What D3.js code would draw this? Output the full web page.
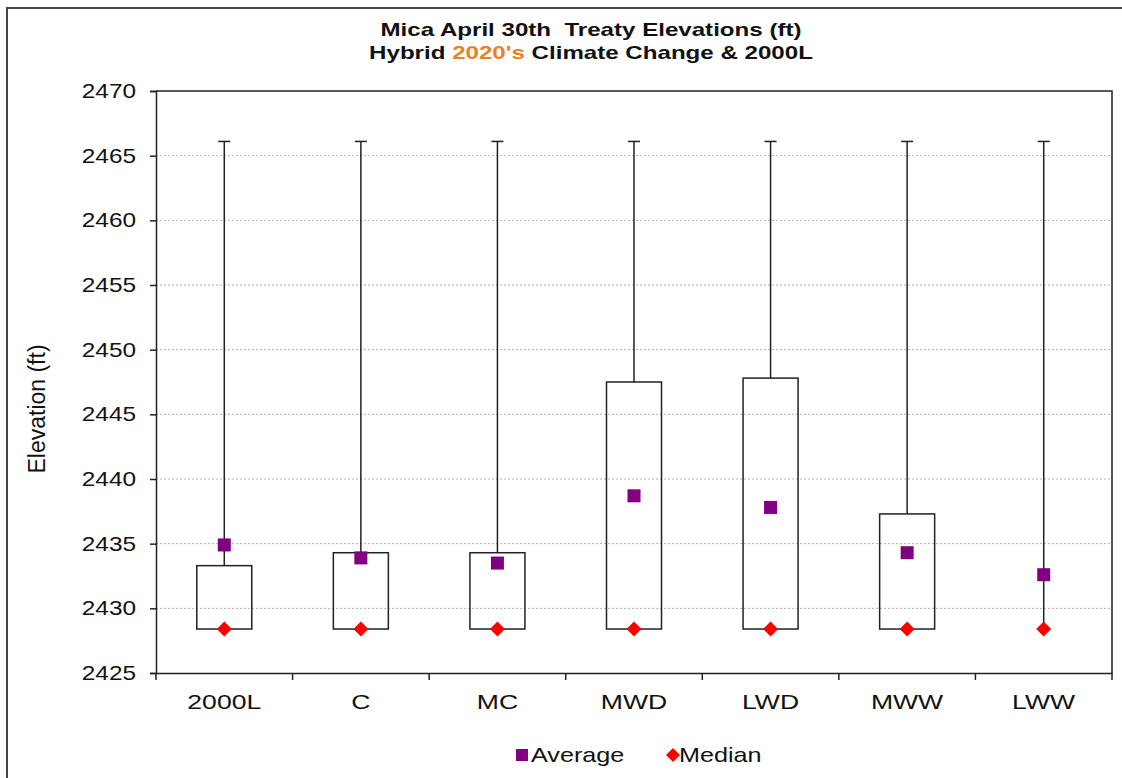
<!DOCTYPE html>
<html>
<head>
<meta charset="utf-8">
<script src="https://cdn.jsdelivr.net/npm/d3@7"></script>
<style>
  body { margin: 0; background: #fff; }
  text { font-family: "Liberation Sans", Arial, sans-serif; white-space: pre; }
  /* the source picture has wide, stretched lettering */
  .wide-c { transform-box: fill-box; transform-origin: center; transform: scaleX(1.34); }
  .wide-r { transform-box: fill-box; transform-origin: right center; transform: scaleX(1.22); }
  .wide-l { transform-box: fill-box; transform-origin: left center; transform: scaleX(1.26); }
  .wide-x { transform-box: fill-box; transform-origin: center; transform: scaleX(1.33); }
</style>
</head>
<body>
<svg width="1122" height="778"></svg>
<script>
// data
const categories = ['2000L', 'C', 'MC', 'MWD', 'LWD', 'MWW', 'LWW'];
const maxValues = [2466.1, 2466.1, 2466.1, 2466.1, 2466.1, 2466.1, 2466.1];
const q3Values = [2433.3, 2434.3, 2434.3, 2447.5, 2447.8, 2437.3, 2428.4];
const q1Values = [2428.4, 2428.4, 2428.4, 2428.4, 2428.4, 2428.4, 2428.4];
const averages = [2434.9, 2433.9, 2433.5, 2438.7, 2437.8, 2434.3, 2432.6];
const medians = [2428.4, 2428.4, 2428.4, 2428.4, 2428.4, 2428.4, 2428.4];
const yTicks = [2425, 2430, 2435, 2440, 2445, 2450, 2455, 2460, 2465, 2470];

const svg = d3.select('svg');

// outer chart frame (only left + top edges show in the picture)
svg.append('path')
    .attr('d', 'M7,778 L7,8 L1122,8')
    .attr('fill', 'none')
    .attr('stroke', '#444')
    .attr('stroke-width', 2);

const plotLeft = 156, plotRight = 1112, plotTop = 91, plotBottom = 673;

const x = d3.scaleBand().domain(categories).range([plotLeft, plotRight]);
const y = d3.scaleLinear().domain([2425, 2470]).range([plotBottom, plotTop]);

//gridlines
svg.append('g')
    .selectAll('line')
    .data(yTicks.filter(t => t > 2425 && t < 2470))
    .join('line')
    .attr('x1', plotLeft).attr('x2', plotRight)
    .attr('y1', d => y(d)).attr('y2', d => y(d))
    .attr('stroke', '#b0b0b0')
    .attr('stroke-dasharray', '2,2');

// plot area border (top + right)
svg.append('path')
    .attr('d', `M${plotLeft},${plotTop} L${plotRight},${plotTop} L${plotRight},${plotBottom}`)
    .attr('fill', 'none')
    .attr('stroke', '#222')
    .attr('stroke-width', 1.5);

//y axis
const yAxis = svg.append('g')
    .attr('transform', `translate(${plotLeft},0)`)
    .call(d3.axisLeft(y).tickValues(yTicks).tickSize(6).tickPadding(14).tickFormat(d3.format('d')));
yAxis.selectAll('text').attr('font-size', 20).attr('fill', '#111')
    .attr('class', 'wide-r')
    .style('font-family', '"Liberation Sans", Arial, sans-serif');
yAxis.selectAll('line, path').attr('stroke', '#222').attr('stroke-width', 1.5);

//x axis - ticks sit between categories
const xAxis = svg.append('g')
    .attr('transform', `translate(0,${plotBottom})`)
    .call(d3.axisBottom(x).tickSize(0).tickPadding(22));
xAxis.select('.domain').attr('stroke', '#222').attr('stroke-width', 1.5);
xAxis.selectAll('text').attr('font-size', 20).attr('fill', '#111')
    .attr('class', 'wide-x')
    .style('font-family', '"Liberation Sans", Arial, sans-serif');
svg.append('g')
    .selectAll('line')
    .data(d3.range(categories.length + 1))
    .join('line')
    .attr('x1', i => plotLeft + i * x.step()).attr('x2', i => plotLeft + i * x.step())
    .attr('y1', plotBottom).attr('y2', plotBottom + 7)
    .attr('stroke', '#222').attr('stroke-width', 1.5);

// boxes
const boxW = 55;
const rows = categories.map((c, i) => ({
  cat: c, max: maxValues[i], q3: q3Values[i], q1: q1Values[i], avg: averages[i], med: medians[i]
}));
const cx = d => x(d.cat) + x.bandwidth() / 2;

const boxes = svg.append('g').selectAll('g').data(rows).join('g');

boxes.append('line')
    .attr('x1', cx).attr('x2', cx)
    .attr('y1', d => y(d.max)).attr('y2', d => y(d.q3))
    .attr('stroke', '#222').attr('stroke-width', 1.5);
boxes.append('line')
    .attr('x1', d => cx(d) - 6).attr('x2', d => cx(d) + 6)
    .attr('y1', d => y(d.max)).attr('y2', d => y(d.max))
    .attr('stroke', '#222').attr('stroke-width', 1.5);
boxes.filter(d => d.q3 > d.q1).append('rect')
    .attr('x', d => cx(d) - boxW / 2)
    .attr('width', boxW)
    .attr('y', d => y(d.q3))
    .attr('height', d => y(d.q1) - y(d.q3))
    .attr('fill', 'none')
    .attr('stroke', '#222').attr('stroke-width', 1.5);

// average squares
boxes.append('rect')
    .attr('x', d => cx(d) - 6.5)
    .attr('y', d => y(d.avg) - 6.5)
    .attr('width', 13).attr('height', 13)
    .attr('fill', '#800080');

// median diamonds
const diamond = 'M0,-7.5 L7.5,0 L0,7.5 L-7.5,0 Z';
boxes.append('path')
    .attr('d', diamond)
    .attr('transform', d => `translate(${cx(d)},${y(d.med)})`)
    .attr('fill', '#ff0000');

//y title
svg.append('text')
    .attr('transform', `translate(45,${(plotTop + plotBottom) / 2 + 27}) rotate(-90)`)
    .attr('text-anchor', 'middle')
    .attr('font-size', 23)
    .attr('fill', '#111')
    .text('Elevation (ft)');

//title
const title = svg.append('g').attr('font-size', 18).attr('font-weight', 'bold').attr('fill', '#111');
title.append('text').attr('class', 'wide-c').attr('x', 591).attr('y', 36)
    .attr('text-anchor', 'middle')
    .text('Mica April 30th  Treaty Elevations (ft)');
const t2 = title.append('text').attr('class', 'wide-c').attr('x', 591).attr('y', 59)
    .attr('text-anchor', 'middle');
t2.append('tspan').text('Hybrid ');
t2.append('tspan').attr('fill', '#f07f22').text("2020's");
t2.append('tspan').text(' Climate Change & 2000L');

//legend
const legend = svg.append('g').attr('transform', 'translate(516,755)');
legend.append('rect').attr('x', 0).attr('y', -6).attr('width', 12).attr('height', 12).attr('fill', '#800080');
legend.append('text').attr('class', 'wide-l').attr('x', 15).attr('y', 7).attr('font-size', 20).attr('fill', '#111').text('Average');
legend.append('path').attr('d', 'M0,-7 L7,0 L0,7 L-7,0 Z').attr('transform', 'translate(157,0)').attr('fill', '#ff0000');
legend.append('text').attr('class', 'wide-l').attr('x', 163).attr('y', 7).attr('font-size', 20).attr('fill', '#111').text('Median');
</script>
</body>
</html>
